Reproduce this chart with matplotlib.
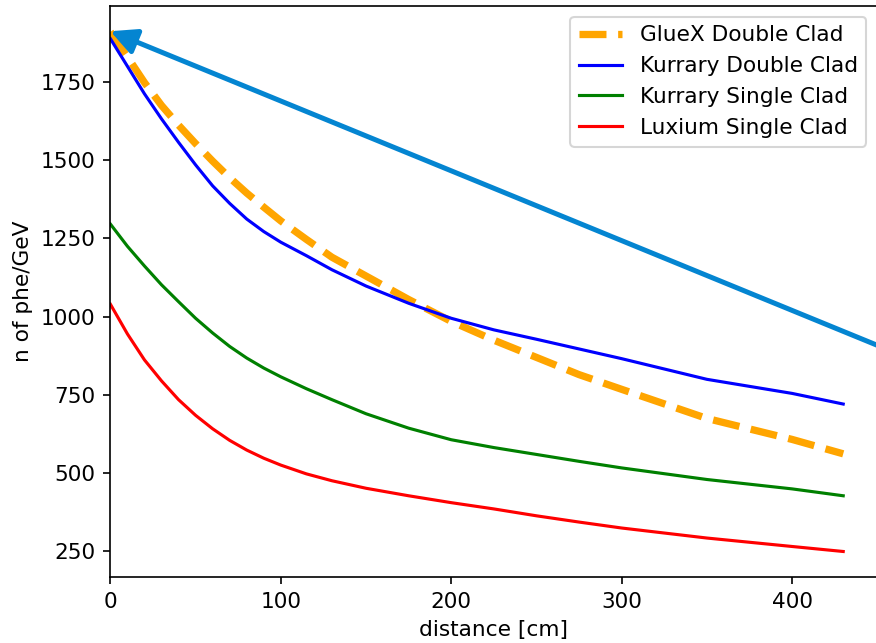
import matplotlib
matplotlib.use("Agg")
import matplotlib.pyplot as plt

plt.rcParams['font.size'] = 10.4

# distance [cm] where values were read
dist = [0, 10, 20, 30, 40, 50, 60, 70, 80, 90, 100, 115, 130, 150, 175, 200,
        225, 250, 275, 300, 350, 400, 430]

gluex_double = [1910, 1830, 1748, 1675, 1612, 1553, 1497, 1444, 1395, 1350, 1306, 1247,
                1190, 1130, 1055, 985, 925, 870, 815, 768, 675, 608, 562]
kurrary_double = [1888, 1800, 1712, 1632, 1557, 1485, 1418, 1362, 1312, 1272, 1238, 1195,
                  1150, 1098, 1043, 995, 958, 928, 897, 866, 800, 755, 721]
kurrary_single = [1296, 1225, 1162, 1102, 1048, 995, 948, 905, 868, 836, 808, 770,
                  735, 690, 644, 607, 582, 560, 538, 517, 480, 450, 428]
luxium_single = [1040, 945, 862, 795, 735, 685, 642, 605, 574, 548, 526, 498,
                 476, 452, 428, 406, 386, 364, 344, 325, 293, 266, 250]

xticks = [0, 100, 200, 300, 400]

# arrow: tail (off the right edge) -> head
arrow_tail = (470, 864)
arrow_head = (0, 1912)

fig = plt.figure(figsize=(876/150, 643/150), dpi=150)
ax = fig.add_axes([0.126, 0.1019, 0.8755, 0.889])

ax.plot(dist, gluex_double, '--', color='orange', lw=3.5, label='GlueX Double Clad')
ax.plot(dist, kurrary_double, color='b', label='Kurrary Double Clad')
ax.plot(dist, kurrary_single, color='g', label='Kurrary Single Clad')
ax.plot(dist, luxium_single, color='r', label='Luxium Single Clad')

ax.annotate('', xy=arrow_head, xytext=arrow_tail,
            arrowprops=dict(arrowstyle='-|>', color='#0485d1', lw=2.4,
                            mutation_scale=26, shrinkA=0, shrinkB=0))

ax.set_xlim(0, 450)
ax.set_xticks(xticks)
ax.set_xlabel('distance [cm]')
ax.set_ylabel('n of phe/GeV')
ax.legend(loc='upper right')

fig.savefig('out.png', dpi=150)
